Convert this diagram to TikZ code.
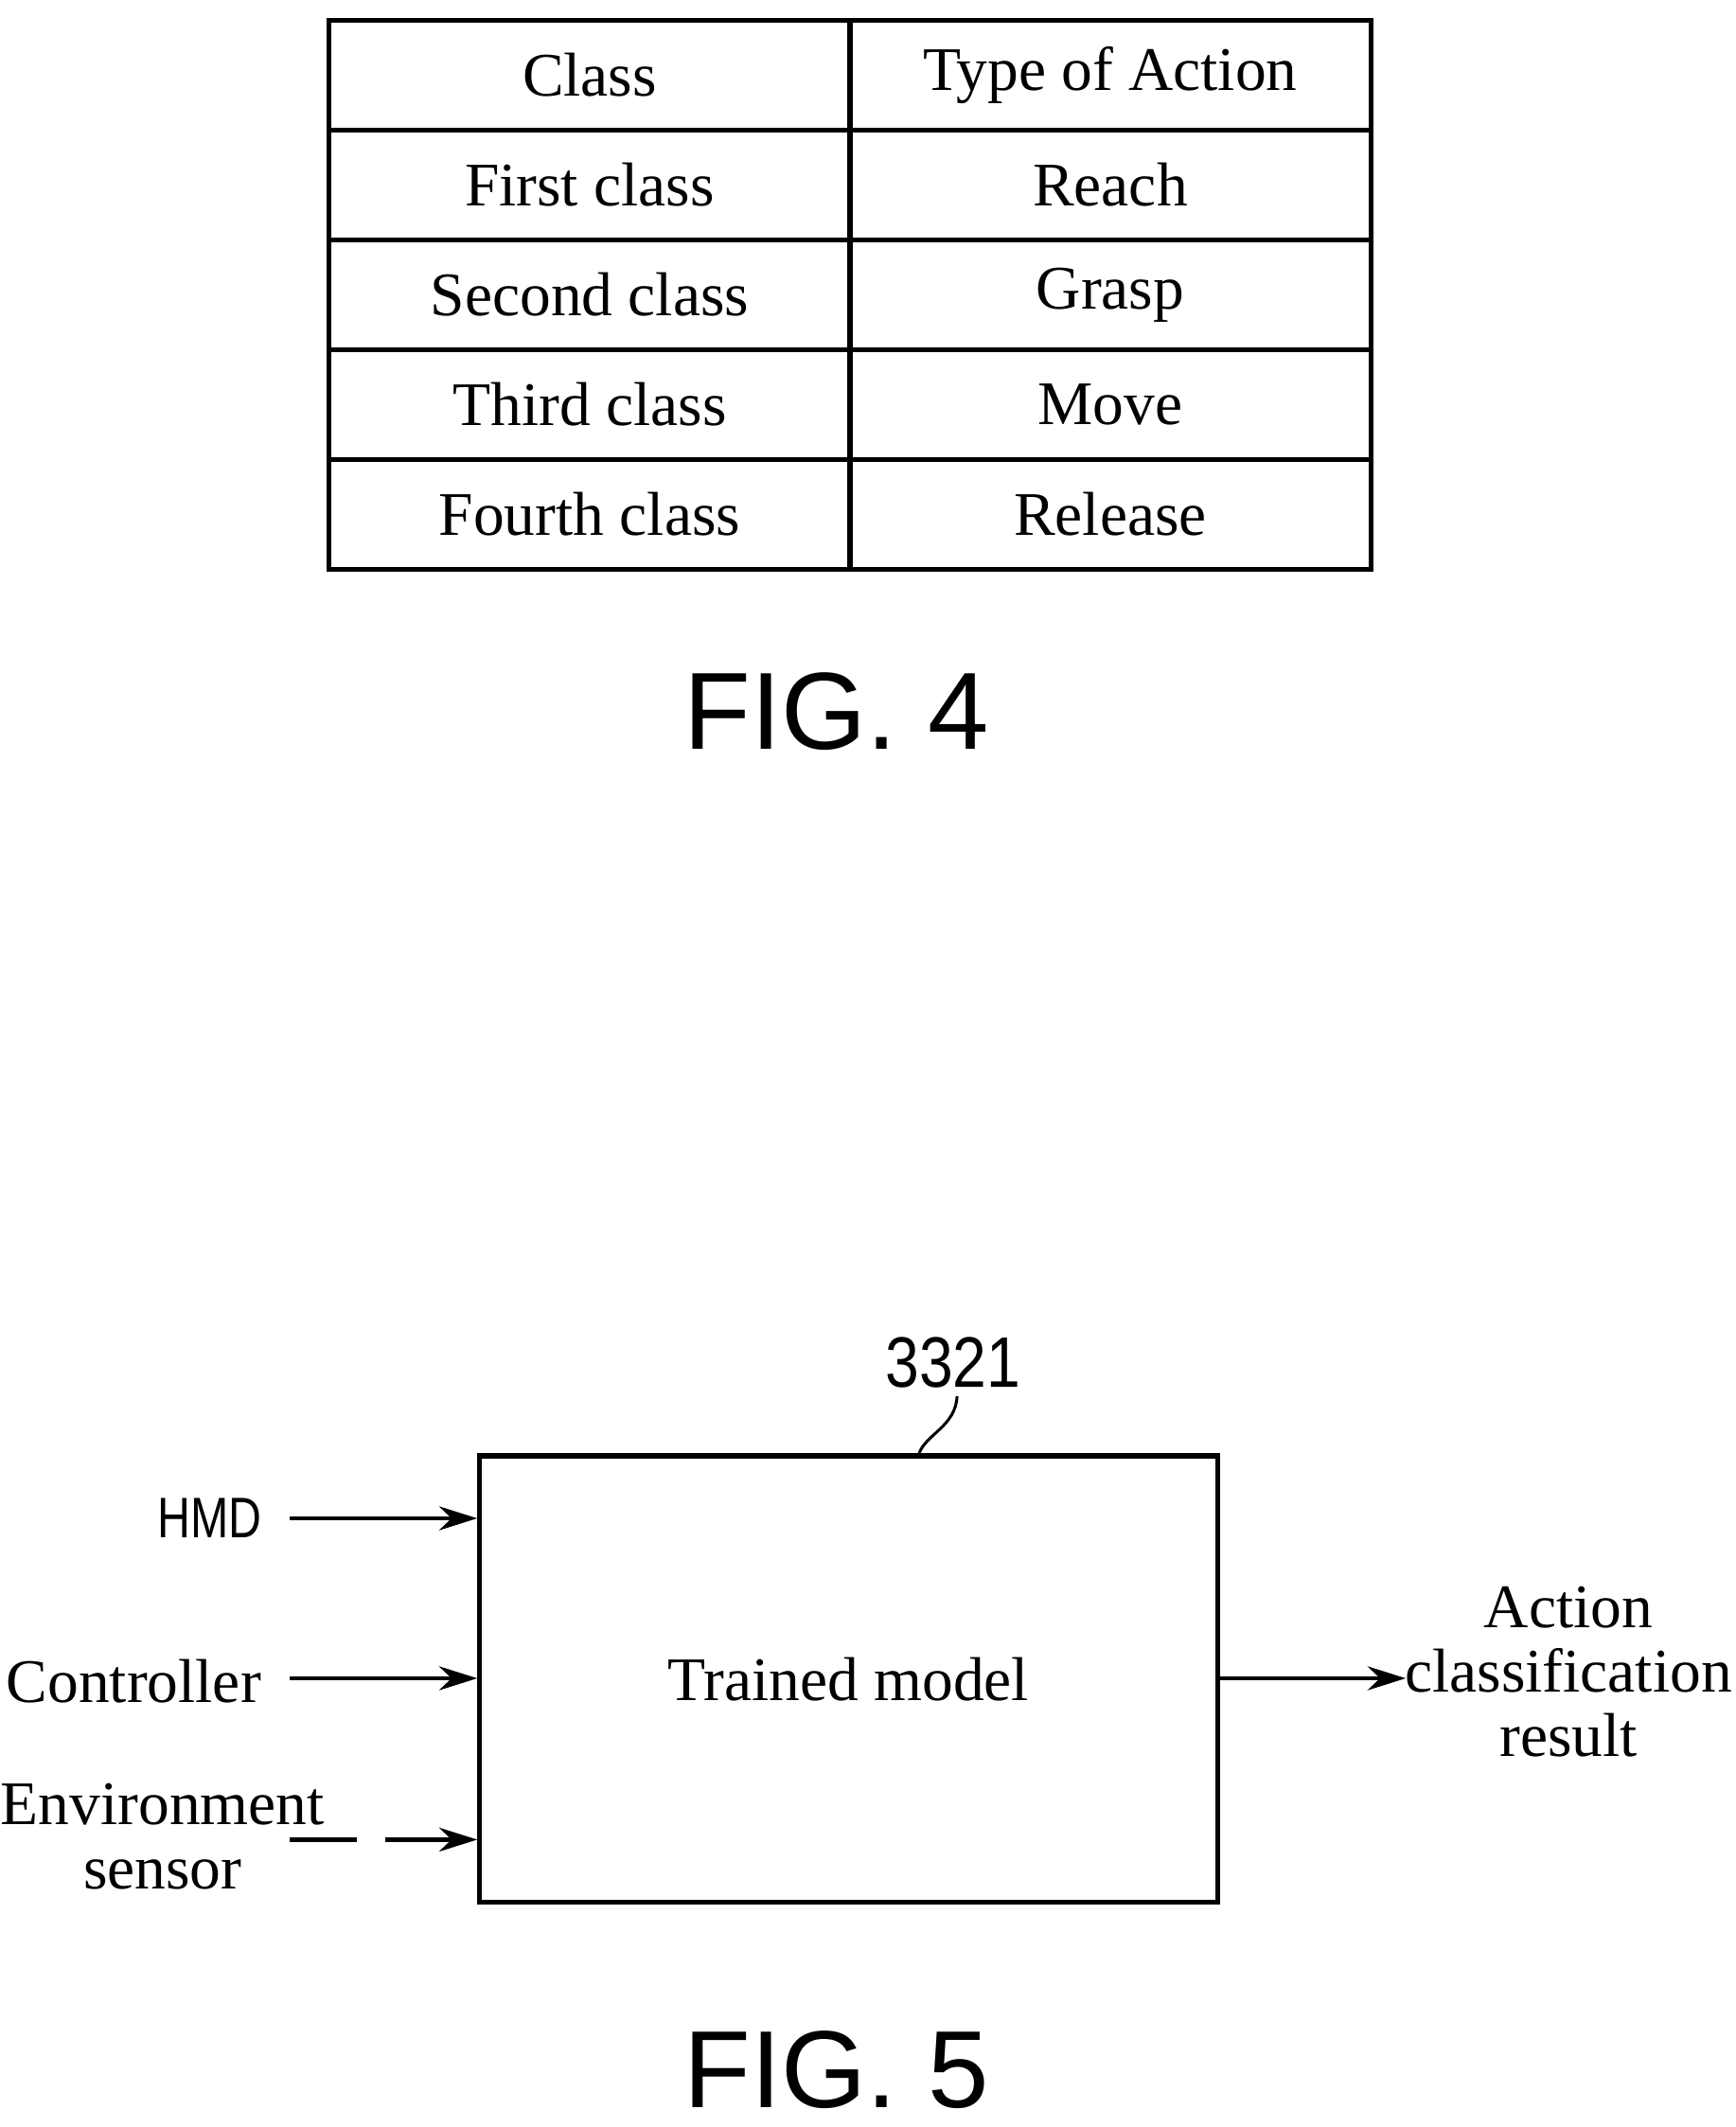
\documentclass[tikz,border=0pt]{standalone}
\usepackage{fontspec}
\setmainfont{Liberation Serif}
\newfontfamily\figfont{Liberation Sans}
\usetikzlibrary{arrows.meta, positioning}

\begin{document}
\begin{tikzpicture}[
  x=0.01cm, y=-0.01cm,
  cell/.style={draw, line width=1pt, minimum width=3.84cm, minimum height=0.81cm, inner sep=0pt, font=\fontsize{13}{15}\selectfont},
  block/.style={draw, line width=1pt, minimum width=5.44cm, minimum height=3.29cm, font=\fontsize{13}{15}\selectfont},
  label/.style={font=\fontsize{13}{13.5}\selectfont, align=center},
  figlabel/.style={font=\figfont\fontsize{23}{25}\selectfont},
  inarrow/.style={-{Stealth[length=8pt, width=5pt]}, line width=0.9pt},
]
\useasboundingbox (0,0) rectangle (1280,1569);

% FIG. 4 table
\foreach \y/\cls/\act [count=\i] in {55.5/Class/Type of Action, 136.5/First class/Reach,
    217.5/Second class/Grasp, 298.5/Third class/Move, 379.5/Fourth class/Release} {
  \node[cell] (cls\i) at (435,\y) {\cls};
  \node[cell] (act\i) at (819,\y) {\act};
}
\node[figlabel] (fig4) at (617,525) {FIG. 4};

% FIG. 5
\node[block] (model) at (626,1238.5) {Trained model};
\node[label, anchor=east, font=\figfont\fontsize{12}{13}\selectfont, xscale=0.8] (hmd) at (203,1120) {HMD};
\node[label, anchor=east] (ctrl) at (205,1240) {Controller};
\node[label] (env) at (120,1355) {Environment\\sensor};
\node[label] (result) at (1157,1233) {Action\\classification\\result};
\node[font=\figfont\fontsize{15}{16}\selectfont, xscale=0.85] (num) at (703,1005) {3321};
\node[figlabel] (fig5) at (617,1527) {FIG. 5};

\coordinate (hmdin) at (214,1120);
\coordinate (ctrlin) at (214,1238);
\coordinate (envin) at (214,1357);
\coordinate (outend) at (1037,1238);

\draw[inarrow] (hmdin) -- (model.west |- hmdin);
\draw[inarrow] (ctrlin) -- (model.west |- ctrlin);
\draw[inarrow, dash pattern=on 14pt off 6pt] (envin) -- (model.west |- envin);
\draw[inarrow] (model.east |- outend) -- (outend);
\draw[line width=0.6pt] (model.north -| 678,0) .. controls (683,1058) and (705,1052) .. (706,1030);

\end{tikzpicture}
\end{document}
